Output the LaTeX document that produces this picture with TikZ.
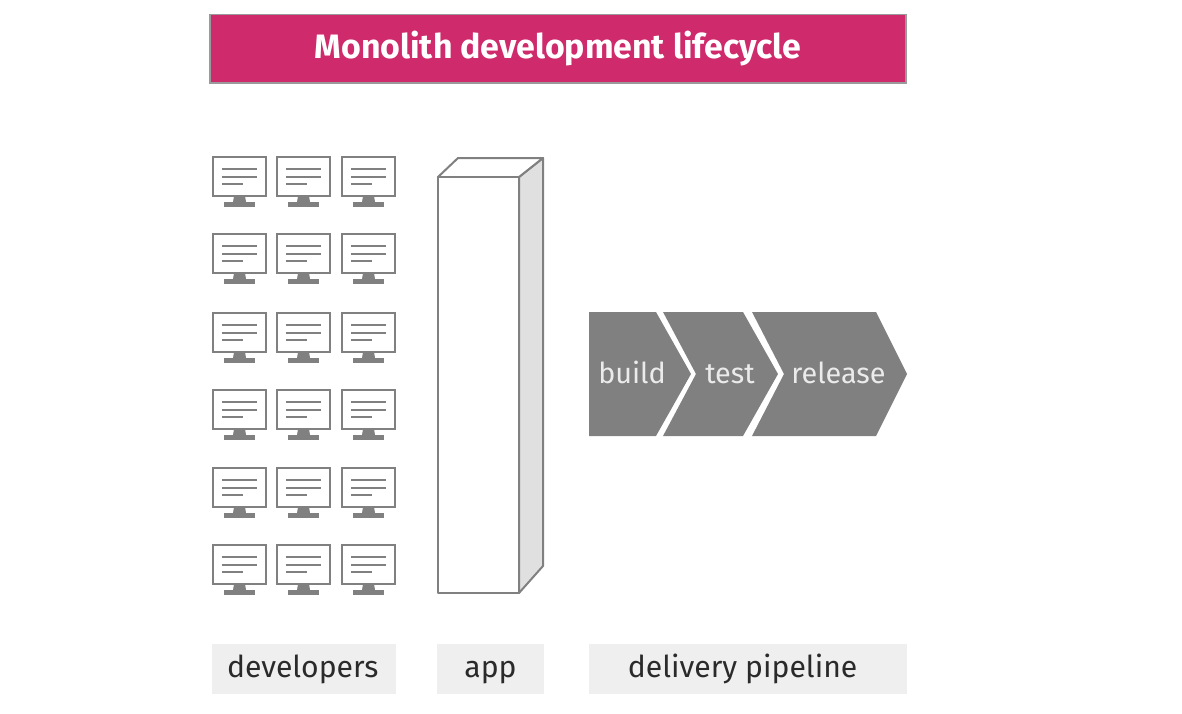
\documentclass[tikz,border=0pt]{standalone}
\usepackage{fontspec}
\setmainfont{Fira Sans}
\usepackage{xcolor}
\usetikzlibrary{positioning}
\definecolor{titlepink}{HTML}{CF2A6C}
\definecolor{titleline}{HTML}{9A9A9A}
\definecolor{inkgray}{HTML}{808080}
\definecolor{sidegray}{HTML}{E0E0E0}
\definecolor{labelbg}{HTML}{EFEFEF}
\definecolor{ink}{HTML}{2A2A2A}
\tikzset{
  titlebox/.style={draw=titleline,fill=titlepink,line width=1pt,text=white,
                   minimum width=522pt,minimum height=51.5pt,inner sep=0pt,
                   font=\fontsize{25.4}{29}\selectfont\bfseries},
  labelbox/.style={fill=labelbg,minimum height=37.5pt,inner sep=0pt,text=ink,
                   text height=16pt,text depth=4pt,
                   font=\fontsize{22.6}{26}\selectfont},
  stagearrow/.style={fill=inkgray,draw=none},
  stagetext/.style={text=white!92!black,inner sep=0pt,
                    text height=15pt,text depth=0pt,
                    font=\fontsize{21.6}{25}\selectfont},
  appface/.style={draw=inkgray,line width=1.5pt,line join=round},
  monitor/.pic={
    \draw[draw=inkgray,line width=1.5pt,fill=white] (0,0) rectangle (53,39);
    \draw[draw=inkgray,line width=1.5pt] (9,12) -- (44,12);
    \draw[draw=inkgray,line width=1.5pt] (9,20) -- (44,20);
    \draw[draw=inkgray,line width=1.5pt] (9,27) -- (30,27);
    \fill[inkgray] (21,39) -- (32,39) -- (33,45) -- (20,45) -- cycle;
    \fill[inkgray] (11,45) rectangle (42,49.5);
  }
}
\begin{document}
\begin{tikzpicture}[x=0.75pt,y=-0.75pt]
  \path[use as bounding box] (0,0) rectangle (1182,714);
  \node[titlebox] (title) at (558,48.5) {Monolith development lifecycle};

  % developers
  \foreach \row in {157,234,313,390,468,545}
    \foreach \col in {213,277,342}
      \pic at (\col,\row) {monitor};

  % app
  \draw[appface,fill=sidegray] (519,177) -- (543,158) -- (543,566) -- (519,593) -- cycle;
  \draw[appface,fill=white] (438,177) -- (458,158) -- (543,158) -- (519,177) -- cycle;
  \draw[appface,fill=white] (438,177) rectangle (519,593);

  % pipeline
  \fill[stagearrow] (589,312) -- (656,312) -- (691,374) -- (656,436) -- (589,436) -- cycle;
  \fill[stagearrow] (663,312) -- (743,312) -- (778,374) -- (743,436) -- (663,436) -- (696,374) -- cycle;
  \fill[stagearrow] (752,312) -- (876,312) -- (907,374) -- (876,436) -- (752,436) -- (784,374) -- cycle;
  \node[stagetext] (build) at (632,373) {build};
  \node[stagetext] (test) at (730,373) {test};
  \node[stagetext] (release) at (838.5,373) {release};

  % labels
  \node[labelbox,minimum width=138pt] (developers) at (304,669) {\hspace*{-2pt}developers};
  \node[labelbox,minimum width=80pt] (app) at (490.5,669) {app};
  \node[labelbox,minimum width=238.5pt] (pipeline) at (748,669) {\hspace*{-8pt}delivery pipeline};
\end{tikzpicture}
\end{document}
